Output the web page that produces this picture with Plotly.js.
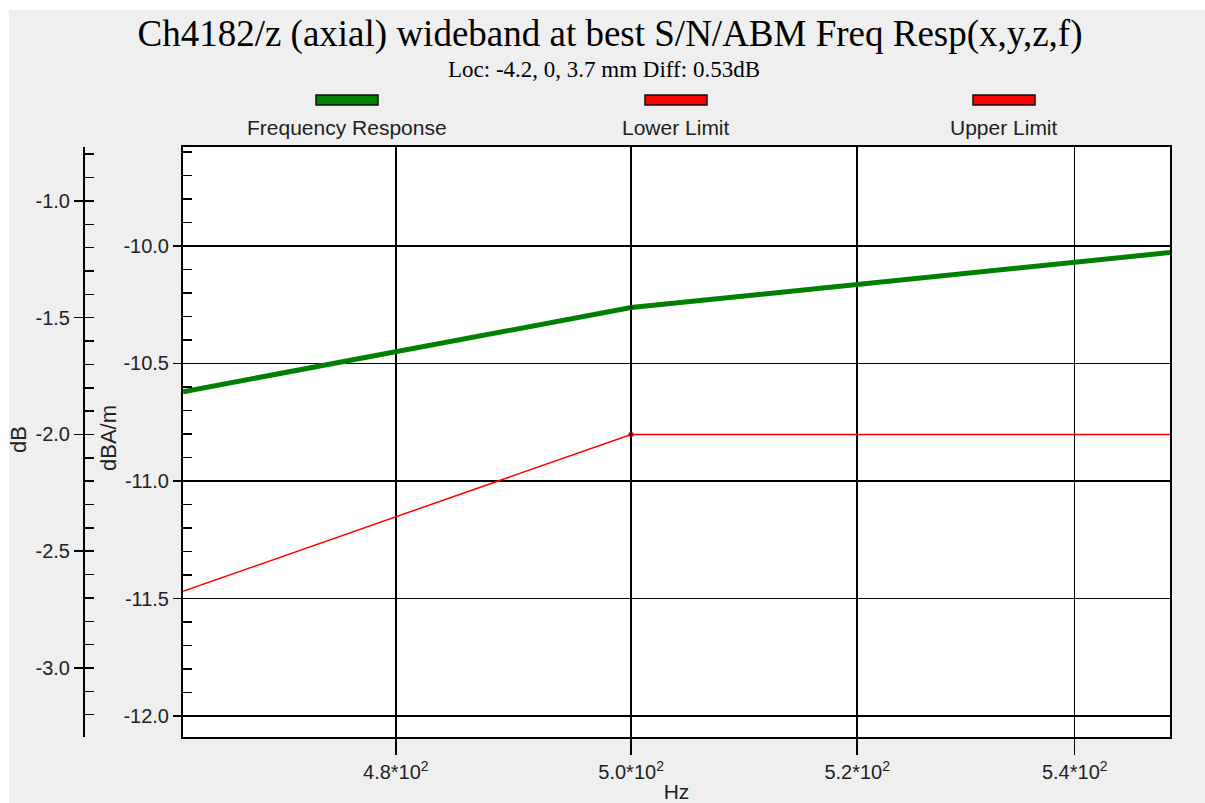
<!DOCTYPE html>
<html>
<head>
<meta charset="utf-8">
<script src="https://cdn.plot.ly/plotly-3.0.1.min.js"></script>
<style>
  html, body { margin: 0; padding: 0; background: #ffffff; }
  #plot { width: 1205px; height: 803px; }
</style>
</head>
<body>
<div id="plot"></div>
<script>
// values
var freqHz = [462.6, 500, 549];
var freqResp = [-10.62, -10.262, -10.028];
var lowerLimit = [-11.469, -10.802, -10.802];
var xTickVals = [480, 500, 520, 540];
var xTickText = ["4.8*10<sup>2</sup>", "5.0*10<sup>2</sup>", "5.2*10<sup>2</sup>", "5.4*10<sup>2</sup>"];
var yTickVals = [-12, -11.5, -11, -10.5, -10];
var yTickText = ["-12.0", "-11.5", "-11.0", "-10.5", "-10.0"];
var y2TickVals = [-3, -2.5, -2, -1.5, -1];
var y2TickText = ["-3.0", "-2.5", "-2.0", "-1.5", "-1.0"];
var legendNames = ["Frequency Response", "Lower Limit", "Upper Limit"];
var legendColors = ["#008000", "#ff0000", "#ff0000"];

// page layout in pixels
var W = 1205, H = 803;
var mL = 60, mR = 35, mT = 147, mB = 66;
var plotW = W - mL - mR, plotH = H - mT - mB;
function px(x) { return (x - mL) / plotW; }
function py(y) { return (H - mB - y) / plotH; }

var sans = "Liberation Sans, Arial, sans-serif";
var serif = "Liberation Serif, Times New Roman, serif";
var tickFont = { family: sans, size: 20, color: "#222" };

var trace1 = {
  x: freqHz,
  y: freqResp,
  type: "scatter",
  mode: "lines+markers",
  name: legendNames[0],
  line: { color: "#008000", width: 5 },
  marker: { color: "#000", size: [0, 4, 0] }
};

var trace2 = {
  x: freqHz,
  y: lowerLimit,
  type: "scatter",
  mode: "lines+markers",
  name: legendNames[1],
  line: { color: "#ff0000", width: 1.5 },
  marker: { color: "#000", size: [0, 5, 0] }
};

// the dB axis carries no visible series
var dbAxisTrace = { x: [], y: [], type: "scatter", mode: "lines", yaxis: "y2", name: "dB" };

var legendX = [347, 676, 1004];
var shapes = [
  // white strips at top and left of the page
  { type: "rect", xref: "paper", yref: "paper", x0: px(0), x1: px(W), y0: py(10), y1: py(0),
    fillcolor: "#fff", line: { width: 0 }, layer: "below" },
  { type: "rect", xref: "paper", yref: "paper", x0: px(0), x1: px(9), y0: py(H), y1: py(0),
    fillcolor: "#fff", line: { width: 0 }, layer: "below" }
];
function note(text, x, y, font, angle) {
  return { text: text, xref: "paper", yref: "paper", x: px(x), y: py(y),
    xanchor: "center", yanchor: "middle", textangle: angle || 0,
    showarrow: false, font: font };
}
var annotations = [
  note("Loc: -4.2, 0, 3.7 mm Diff: 0.53dB", 604, 69, { family: serif, size: 23, color: "#000" }),
  note("dB", 18, 440, { family: sans, size: 22, color: "#222" }, -90),
  note("dBA/m", 108, 438, { family: sans, size: 22, color: "#222" }, -90)
];
for (var i = 0; i < legendNames.length; i++) {
  shapes.push({ type: "rect", xref: "paper", yref: "paper",
    x0: px(legendX[i] - 31), x1: px(legendX[i] + 31), y0: py(105), y1: py(95),
    fillcolor: legendColors[i], line: { color: "#111", width: 1.5 } });
  annotations.push(note(legendNames[i], legendX[i], 128, { family: sans, size: 21, color: "#222" }));
}

var layout = {
  width: W,
  height: H,
  margin: { l: mL, r: mR, t: mT, b: mB },
  paper_bgcolor: "#efefef",
  plot_bgcolor: "#ffffff",
  showlegend: false,
  title: {
    text: "Ch4182/z (axial) wideband at best S/N/ABM Freq Resp(x,y,z,f)",
    font: { family: serif, size: 37, color: "#000" },
    xref: "container", x: 610 / W,
    yref: "container", y: 1 - 33 / H, yanchor: "middle"
  },
  xaxis: {
    type: "log",
    domain: [px(183), 1],
    range: [Math.log10(462.6), Math.log10(549)],
    tickvals: xTickVals,
    ticktext: xTickText,
    ticks: "outside",
    ticklen: 16,
    tickwidth: 1.5,
    tickcolor: "#000",
    tickfont: { family: sans, size: 20, color: "#222" },
    showgrid: true,
    gridcolor: "#000",
    gridwidth: 1.5,
    showline: true,
    mirror: true,
    linecolor: "#000",
    linewidth: 2,
    zeroline: false,
    title: { text: "Hz", font: { family: sans, size: 21, color: "#222" }, standoff: 1 }
  },
  yaxis: {
    range: [-12.089, -9.579],
    tickvals: yTickVals,
    ticktext: yTickText,
    ticks: "outside",
    ticklen: 8,
    tickwidth: 1.5,
    tickcolor: "#000",
    tickfont: tickFont,
    showgrid: true,
    gridcolor: "#000",
    gridwidth: 1.5,
    showline: true,
    mirror: true,
    linecolor: "#000",
    linewidth: 2,
    zeroline: false,
    minor: { tickmode: "linear", tick0: -12, dtick: 0.1, ticks: "inside", ticklen: 9,
      tickwidth: 1.5, tickcolor: "#000", showgrid: false }
  },
  yaxis2: {
    overlaying: "y",
    anchor: "free",
    position: px(84),
    side: "left",
    range: [-3.2955, -0.769],
    tickvals: y2TickVals,
    ticktext: y2TickText,
    ticks: "outside",
    ticklen: 9,
    tickwidth: 1.5,
    tickcolor: "#000",
    tickfont: tickFont,
    showgrid: false,
    showline: true,
    linecolor: "#000",
    linewidth: 2,
    zeroline: false,
    minor: { tickmode: "linear", tick0: -3, dtick: 0.1, ticks: "inside", ticklen: 9,
      tickwidth: 1.5, tickcolor: "#000", showgrid: false }
  },
  shapes: shapes,
  annotations: annotations
};

Plotly.newPlot("plot", [trace1, trace2, dbAxisTrace], layout, { displayModeBar: false, staticPlot: true });
</script>
</body>
</html>
